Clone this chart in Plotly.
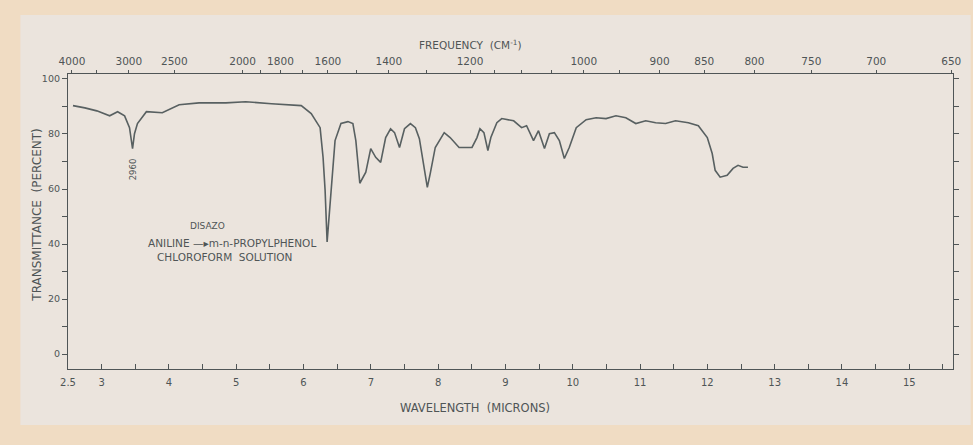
import plotly.graph_objects as go

# Infrared spectrum: wavelength (microns) vs. transmittance (percent)
wavelength_um = [
    2.574, 2.75, 2.928, 3.119, 3.237, 3.341, 3.414, 3.437, 3.459, 3.488, 3.532,
    3.665, 3.901, 4.152, 4.447, 4.845, 5.140, 5.524, 5.966, 6.114, 6.246, 6.29,
    6.32, 6.35, 6.409, 6.468, 6.556, 6.659, 6.733, 6.777, 6.836, 6.88, 6.925,
    6.998, 7.072, 7.146, 7.22, 7.293, 7.352, 7.426, 7.50, 7.588, 7.662, 7.721,
    7.795, 7.839, 7.883, 7.957, 8.09, 8.178, 8.311, 8.503, 8.577, 8.621, 8.68,
    8.739, 8.783, 8.872, 8.945, 9.122, 9.24, 9.314, 9.417, 9.491, 9.58, 9.653,
    9.727, 9.801, 9.875, 9.948, 10.052, 10.199, 10.347, 10.494, 10.642, 10.789,
    10.937, 11.084, 11.232, 11.379, 11.527, 11.718, 11.866, 11.999, 12.072,
    12.116, 12.19, 12.294, 12.382, 12.456, 12.53, 12.603,
]
transmittance_pct = [
    90.3, 89.5, 88.4, 86.6, 88.1, 86.6, 82.3, 78.3, 74.7, 80.1, 83.8,
    88.1, 87.7, 90.6, 91.3, 91.3, 91.7, 91.0, 90.3, 87.4, 82.3, 71.5,
    59.6, 40.8, 59.6, 77.6, 83.8, 84.5, 83.8, 77.6, 62.1, 64.3, 66.1,
    74.7, 71.5, 69.7, 78.7, 81.9, 80.5, 75.1, 81.9, 83.8, 82.3, 78.3,
    67.9, 60.6, 65.7, 75.1, 80.5, 78.7, 75.1, 75.1, 78.7, 81.9, 80.5,
    74.0, 78.7, 84.1, 85.6, 84.8, 82.3, 83.0, 77.6, 81.2, 74.7, 80.1,
    80.5, 77.6, 71.1, 75.1, 82.3, 85.2, 85.9, 85.6, 86.6, 85.9,
    83.8, 84.8, 84.1, 83.8, 84.8, 84.1, 83.0, 78.7, 72.9,
    66.8, 64.3, 65.0, 67.5, 68.6, 67.9, 67.9,
]

# Bottom axis: wavelength ticks every 0.5 micron, labelled at whole microns
wl_ticks = [2.5 + 0.5 * i for i in range(27)]
wl_labels = ["2.5" if v == 2.5 else (str(int(v)) if v == int(v) else "") for v in wl_ticks]

# Top axis: frequency in cm-1
freq_major = [4000, 3000, 2500, 2000, 1800, 1600, 1400, 1200, 1000, 900, 850, 800, 750, 700, 650]
freq_minor = [3500, 1900, 1700, 1500, 1300, 1150, 1100, 1050, 950]

# Left axis: transmittance ticks
t_ticks = list(range(0, 101, 10))
t_labels = [str(v) if v % 20 == 0 else "" for v in t_ticks]

INK = "#4f5556"
FONT = "DejaVu Sans"

freq_vals = [1e4 / f for f in freq_major] + [1e4 / f for f in freq_minor]
freq_text = [str(f) for f in freq_major] + [""] * len(freq_minor)

fig = go.Figure()
fig.add_trace(go.Scatter(
    x=wavelength_um, y=transmittance_pct, mode="lines",
    line=dict(color="#586061", width=1.6), hoverinfo="skip", showlegend=False,
))
# carrier trace so the frequency axis is drawn
fig.add_trace(go.Scatter(
    x=[1e4 / freq_major[0]], y=[None], xaxis="x2", mode="lines",
    hoverinfo="skip", showlegend=False,
))

fig.update_layout(
    width=973, height=445,
    margin=dict(l=68, r=13, t=74, b=76),
    paper_bgcolor="#f0dcc3",
    plot_bgcolor="rgba(0,0,0,0)",
    font=dict(family=FONT, color=INK, size=9),
    xaxis=dict(
        range=[2.5, 15.65], tickmode="array", tickvals=wl_ticks, ticktext=wl_labels,
        ticks="inside", ticklen=5, tickcolor=INK, tickwidth=1,
        showline=True, linecolor=INK, linewidth=1.2, showgrid=False, zeroline=False,
        tickfont=dict(size=10, color=INK), ticklabelstandoff=4,
    ),
    xaxis2=dict(
        overlaying="x", side="top", range=[2.442, 15.41],
        tickmode="array", tickvals=freq_vals, ticktext=freq_text,
        ticks="outside", ticklen=3, tickcolor=INK, tickwidth=1.2,
        showline=True, linecolor=INK, linewidth=1.2, showgrid=False, zeroline=False,
        tickfont=dict(size=10.5, color=INK), ticklabelstandoff=1,
    ),
    yaxis=dict(
        range=[-5.4, 101.8], tickmode="array", tickvals=t_ticks, ticktext=t_labels,
        ticks="outside", ticklen=5, tickcolor=INK, tickwidth=1.2,
        showline=True, linecolor=INK, linewidth=1.2, mirror="ticks",
        showgrid=False, zeroline=False, tickfont=dict(size=9.5, color=INK),
    ),
)

# sheet of chart paper
fig.add_shape(type="rect", xref="paper", yref="paper", layer="below",
              x0=-0.0538, x1=1.02, y0=-0.19, y1=1.2,
              fillcolor="#ebe4dd", line=dict(width=0))

ann = dict(showarrow=False, xanchor="center", yanchor="middle")
fig.add_annotation(text="FREQUENCY  (CM<sup>-1</sup>)", xref="paper", yref="paper",
                   x=0.455, y=1.1, font=dict(family=FONT, color=INK, size=10.5), **ann)
fig.add_annotation(text="WAVELENGTH  (MICRONS)", xref="paper", yref="paper",
                   x=0.46, y=-0.131, font=dict(family=FONT, color=INK, size=11.5), **ann)
fig.add_annotation(text="TRANSMITTANCE  (PERCENT)", xref="paper", yref="paper",
                   x=-0.035, y=0.52, textangle=-90,
                   font=dict(family=FONT, color=INK, size=12), **ann)
fig.add_annotation(text="2960", x=3.459, y=67, textangle=-90,
                   font=dict(family=FONT, color=INK, size=8.5), **ann)
fig.add_annotation(text="DISAZO", x=4.58, y=46.5,
                   font=dict(family=FONT, color=INK, size=9), **ann)
fig.add_annotation(text="ANILINE \u2014\u25b8m-n-PROPYLPHENOL", x=4.93, y=40.5,
                   font=dict(family=FONT, color=INK, size=10.5), **ann)
fig.add_annotation(text="CHLOROFORM  SOLUTION", x=4.83, y=35.4,
                   font=dict(family=FONT, color=INK, size=10.5), **ann)

fig.write_html("out.html")
